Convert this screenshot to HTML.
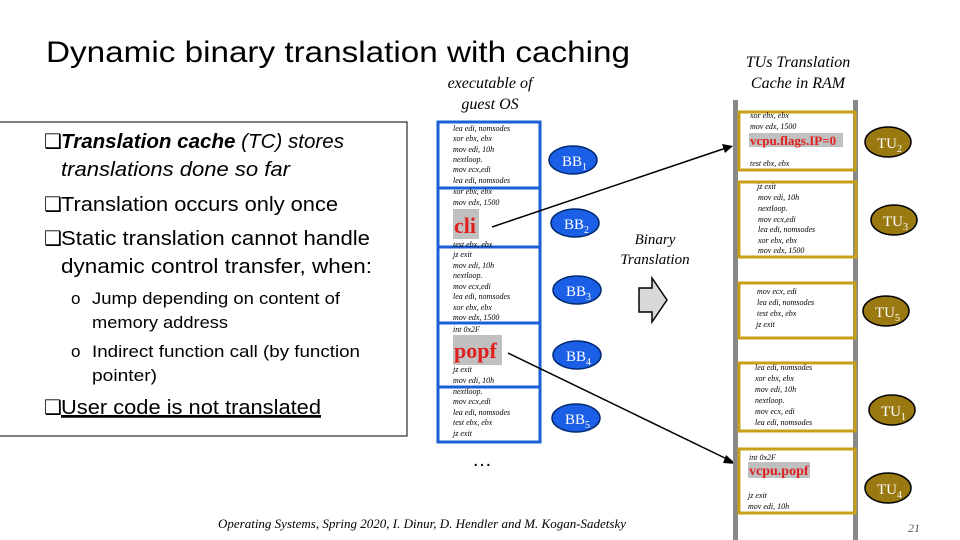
<!DOCTYPE html>
<html><head><meta charset="utf-8"><style>
body{margin:0;width:960px;height:540px;overflow:hidden;background:#fff}
svg{display:block}
.c{font-family:"Liberation Serif",serif;font-style:italic;font-size:8px;fill:#000}
.b{font-family:"Liberation Sans",sans-serif;font-size:20px;fill:#000}
.s{font-family:"Liberation Sans",sans-serif;font-size:17px;fill:#000}
</style></head><body>
<svg width="960" height="540" viewBox="0 0 960 540" xmlns="http://www.w3.org/2000/svg">
<text x="46" y="62" textLength="584" lengthAdjust="spacingAndGlyphs" font-family="Liberation Sans,sans-serif" font-size="30" fill="#000">Dynamic binary translation with caching</text>
<text x="490" y="88" text-anchor="middle" font-family="Liberation Serif,serif" font-style="italic" font-size="16">executable of</text>
<text x="490" y="109" text-anchor="middle" font-family="Liberation Serif,serif" font-style="italic" font-size="16">guest OS</text>
<text x="798" y="67" text-anchor="middle" font-family="Liberation Serif,serif" font-style="italic" font-size="16">TUs Translation</text>
<text x="798" y="88" text-anchor="middle" font-family="Liberation Serif,serif" font-style="italic" font-size="16">Cache in RAM</text>
<rect x="-2" y="122" width="409" height="314" fill="none" stroke="#000" stroke-width="1"/>
<g class="b">
<text x="44" y="148">❑</text><text x="61" y="148" textLength="283" lengthAdjust="spacingAndGlyphs"><tspan font-weight="bold" font-style="italic">Translation cache</tspan><tspan font-style="italic"> (TC) stores</tspan></text>
<text x="61" y="176" font-style="italic" textLength="229" lengthAdjust="spacingAndGlyphs">translations done so far</text>
<text x="44" y="211">❑</text><text x="61" y="211" textLength="277" lengthAdjust="spacingAndGlyphs">Translation occurs only once</text>
<text x="44" y="245">❑</text><text x="61" y="245" textLength="309" lengthAdjust="spacingAndGlyphs">Static translation cannot handle</text>
<text x="61" y="273" textLength="311" lengthAdjust="spacingAndGlyphs">dynamic control transfer, when:</text>
<text x="44" y="414">❑</text><text x="61" y="414" textLength="260" lengthAdjust="spacingAndGlyphs" text-decoration="underline">User code is not translated</text>
</g>
<line x1="61" y1="417" x2="321" y2="417" stroke="#000" stroke-width="1.5"/>
<g class="s">
<text x="71" y="304">o</text><text x="92" y="304" textLength="248" lengthAdjust="spacingAndGlyphs">Jump depending on content of</text>
<text x="92" y="328" textLength="136" lengthAdjust="spacingAndGlyphs">memory address</text>
<text x="71" y="357">o</text><text x="92" y="357" textLength="268" lengthAdjust="spacingAndGlyphs">Indirect function call (by function</text>
<text x="92" y="381" textLength="65" lengthAdjust="spacingAndGlyphs">pointer)</text>
</g>
<g fill="none" stroke="#1a5fd6" stroke-width="3">
<rect x="438" y="122" width="102" height="320"/>
<line x1="438" y1="188" x2="540" y2="188"/>
<line x1="438" y1="247" x2="540" y2="247"/>
<line x1="438" y1="323" x2="540" y2="323"/>
<line x1="438" y1="387" x2="540" y2="387"/>
</g>
<g class="c">
<text x="453" y="131">lea edi, nomsodes</text>
<text x="453" y="141">xor ebx, ebx</text>
<text x="453" y="152">mov edi, 10h</text>
<text x="453" y="162">nextloop.</text>
<text x="453" y="172">mov ecx,edi</text>
<text x="453" y="183">lea edi, nomsodes</text>
<text x="453" y="194">xor ebx, ebx</text>
<text x="453" y="205">mov edx, 1500</text>
<text x="453" y="247">test ebx, ebx</text>
<text x="453" y="257">jz exit</text>
<text x="453" y="268">mov edi, 10h</text>
<text x="453" y="278">nextloop.</text>
<text x="453" y="289">mov ecx,edi</text>
<text x="453" y="299">lea edi, nomsodes</text>
<text x="453" y="310">xor ebx, ebx</text>
<text x="453" y="320">mov edx, 1500</text>
<text x="453" y="332">int 0x2F</text>
<text x="453" y="372">jz exit</text>
<text x="453" y="383">mov edi, 10h</text>
<text x="453" y="394">nextloop.</text>
<text x="453" y="404">mov ecx,edi</text>
<text x="453" y="415">lea edi, nomsodes</text>
<text x="453" y="425">test ebx, ebx</text>
<text x="453" y="436">jz exit</text>
</g>
<rect x="453" y="209" width="26" height="30" fill="#c0c0c0"/>
<text x="454" y="233" font-family="Liberation Serif,serif" font-weight="bold" font-size="22" fill="#e02020">cli</text>
<rect x="453" y="335" width="49" height="30" fill="#c0c0c0"/>
<text x="454" y="358" font-family="Liberation Serif,serif" font-weight="bold" font-size="22" fill="#e02020">popf</text>
<text x="472" y="466" font-size="20" font-family="Liberation Sans,sans-serif">…</text>
<g fill="#1a5fe6" stroke="#002a70" stroke-width="1.5">
<ellipse cx="573" cy="160" rx="24" ry="14"/>
<ellipse cx="575" cy="223" rx="24" ry="14"/>
<ellipse cx="577" cy="290" rx="24" ry="14"/>
<ellipse cx="577" cy="355" rx="24" ry="14"/>
<ellipse cx="576" cy="418" rx="24" ry="14"/>
</g>
<g font-family="Liberation Serif,serif" font-size="15" fill="#fff">
<text x="562" y="166">BB<tspan font-size="10" dy="4">1</tspan></text>
<text x="564" y="229">BB<tspan font-size="10" dy="4">2</tspan></text>
<text x="566" y="296">BB<tspan font-size="10" dy="4">3</tspan></text>
<text x="566" y="361">BB<tspan font-size="10" dy="4">4</tspan></text>
<text x="565" y="424">BB<tspan font-size="10" dy="4">5</tspan></text>
</g>
<text x="655" y="244" text-anchor="middle" font-family="Liberation Serif,serif" font-style="italic" font-size="15">Binary</text>
<text x="655" y="264" text-anchor="middle" font-family="Liberation Serif,serif" font-style="italic" font-size="15">Translation</text>
<polygon points="639,288 652,288 652,278 667,300 652,322 652,312 639,312" fill="#d8d8d8" stroke="#000" stroke-width="1.5"/>
<line x1="492" y1="227" x2="726" y2="148" stroke="#000" stroke-width="1.5"/>
<polygon points="733,146 722,144 725,153" fill="#000"/>
<line x1="508" y1="353" x2="729" y2="460" stroke="#000" stroke-width="1.5"/>
<polygon points="736,464 726,455 723,463" fill="#000"/>
<rect x="733" y="100" width="5" height="440" fill="#888"/>
<rect x="853" y="100" width="5" height="440" fill="#888"/>
<g fill="none" stroke="#c8a018" stroke-width="3">
<rect x="739" y="112" width="116" height="58"/>
<rect x="739" y="182" width="117" height="75"/>
<rect x="739" y="283" width="116" height="55"/>
<rect x="739" y="363" width="116" height="68"/>
<rect x="739" y="449" width="116" height="64"/>
</g>
<g class="c" font-size="7.5">
<text x="750" y="118">xor ebx, ebx</text>
<text x="750" y="129">mov edx, 1500</text>
<text x="750" y="166">test ebx, ebx</text>
<text x="757" y="189">jz exit</text>
<text x="758" y="200">mov edi, 10h</text>
<text x="758" y="211">nextloop.</text>
<text x="758" y="222">mov ecx,edi</text>
<text x="758" y="232">lea edi, nomsodes</text>
<text x="758" y="243">xor ebx, ebx</text>
<text x="758" y="253">mov edx, 1500</text>
<text x="757" y="294">mov ecx, edi</text>
<text x="757" y="305">lea edi, nomsodes</text>
<text x="757" y="316">test ebx, ebx</text>
<text x="756" y="327">jz exit</text>
<text x="755" y="370">lea edi, nomsodes</text>
<text x="755" y="381">xor ebx, ebx</text>
<text x="755" y="392">mov edi, 10h</text>
<text x="755" y="403">nextloop.</text>
<text x="755" y="414">mov ecx, edi</text>
<text x="755" y="425">lea edi, nomsodes</text>
<text x="749" y="460">int 0x2F</text>
<text x="748" y="498">jz exit</text>
<text x="748" y="509">mov edi, 10h</text>
</g>
<rect x="749" y="133" width="94" height="14" fill="#c0c0c0"/>
<text x="750" y="145" font-family="Liberation Serif,serif" font-weight="bold" font-size="13" fill="#e02020">vcpu.flags.IP=0</text>
<rect x="748" y="462" width="62" height="16" fill="#c0c0c0"/>
<text x="749" y="475" font-family="Liberation Serif,serif" font-weight="bold" font-size="14" fill="#e02020">vcpu.popf</text>
<g fill="#9a7a10" stroke="#000" stroke-width="1.5">
<ellipse cx="888" cy="142" rx="23" ry="15"/>
<ellipse cx="894" cy="220" rx="23" ry="15"/>
<ellipse cx="886" cy="311" rx="23" ry="15"/>
<ellipse cx="892" cy="410" rx="23" ry="15"/>
<ellipse cx="888" cy="488" rx="23" ry="15"/>
</g>
<g font-family="Liberation Serif,serif" font-size="15" fill="#fff">
<text x="877" y="148">TU<tspan font-size="10" dy="4">2</tspan></text>
<text x="883" y="226">TU<tspan font-size="10" dy="4">3</tspan></text>
<text x="875" y="317">TU<tspan font-size="10" dy="4">5</tspan></text>
<text x="881" y="416">TU<tspan font-size="10" dy="4">1</tspan></text>
<text x="877" y="494">TU<tspan font-size="10" dy="4">4</tspan></text>
</g>
<text x="422" y="528" text-anchor="middle" font-family="Liberation Serif,serif" font-style="italic" font-size="13">Operating Systems, Spring 2020, I. Dinur, D. Hendler and M. Kogan-Sadetsky</text>
<text x="920" y="532" text-anchor="end" font-family="Liberation Serif,serif" font-style="italic" font-size="12" fill="#555">21</text>
</svg>
</body></html>
